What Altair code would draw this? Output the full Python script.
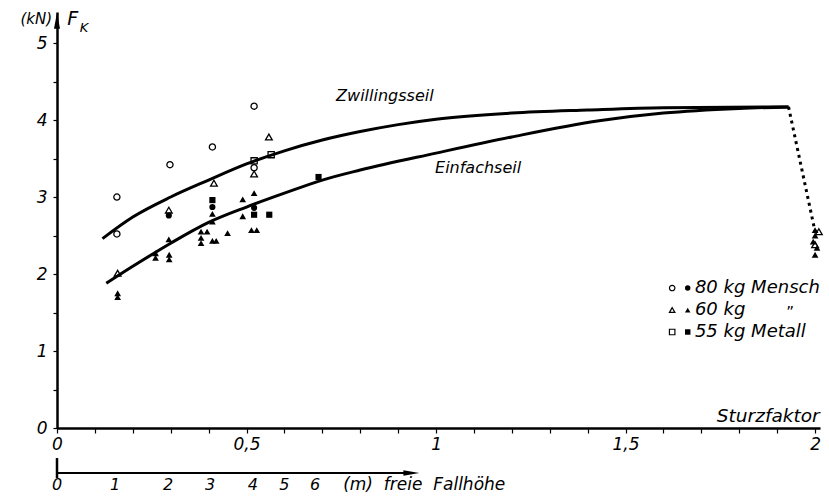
import altair as alt
import pandas as pd

FONT = "DejaVu Sans"

# ---------------- data ----------------
# 80 kg Mensch (circles)
circ_open_x = [0.158, 0.158, 0.298, 0.41, 0.52, 0.52]
circ_open_y = [3.00, 2.52, 3.42, 3.65, 4.18, 3.38]
circ_fill_x = [0.295, 0.41, 0.52]
circ_fill_y = [2.76, 2.87, 2.86]
# 60 kg Mensch (triangles)
tri_open_x = [0.16, 0.295, 0.414, 0.559, 0.52, 2.01, 2.00]
tri_open_y = [2.01, 2.83, 3.18, 3.78, 3.30, 2.55, 2.38]
tri_fill_x = [0.16, 0.16, 0.26, 0.26, 0.296, 0.296, 0.295, 0.38, 0.396, 0.38, 0.38,
              0.41, 0.42, 0.45, 0.41, 0.41, 0.49, 0.52, 0.49, 0.513, 0.527,
              2.00, 2.00, 1.995, 2.005, 2.00]
tri_fill_y = [1.75, 1.70, 2.27, 2.21, 2.25, 2.19, 2.45, 2.55, 2.55, 2.47, 2.40,
              2.43, 2.43, 2.53, 2.78, 2.68, 2.97, 3.05, 2.75, 2.57, 2.57,
              2.57, 2.50, 2.42, 2.34, 2.25]
# 55 kg Metall (squares)
sq_open_x = [0.565, 0.52]
sq_open_y = [3.55, 3.47]
sq_fill_x = [0.41, 0.52, 0.56, 0.69]
sq_fill_y = [2.96, 2.77, 2.77, 3.26]

# curves
zw_x = [0.12, 0.2, 0.3, 0.4, 0.5, 0.6, 0.7, 0.8, 0.9, 1.0, 1.2, 1.4, 1.6, 1.93]
zw_y = [2.46, 2.74, 3.00, 3.22, 3.43, 3.60, 3.74, 3.85, 3.94, 4.01, 4.09, 4.13, 4.16, 4.17]
ef_x = [0.13, 0.2, 0.3, 0.4, 0.5, 0.6, 0.7, 0.8, 1.0, 1.2, 1.43, 1.6, 1.8, 1.93]
ef_y = [1.88, 2.10, 2.40, 2.67, 2.87, 3.05, 3.22, 3.35, 3.57, 3.78, 3.99, 4.09, 4.15, 4.17]
drop_x = [1.93, 2.0]
drop_y = [4.17, 2.55]

# axis ticks
x_ticks = [0.0, 0.1, 0.2, 0.3, 0.4, 0.5, 0.6, 0.7, 0.8, 0.9, 1.0,
           1.1, 1.2, 1.3, 1.4, 1.5, 1.6, 1.7, 1.8, 1.9, 2.0]
y_ticks = [0, 0.5, 1, 1.5, 2, 2.5, 3, 3.5, 4, 4.5, 5]
# second scale: freie Fallhoehe (m), position in Sturzfaktor units
fall_labels = ["0", "1", "2", "3", "4", "5", "6"]
fall_pos = [0.0, 0.153, 0.293, 0.404, 0.517, 0.60, 0.681]

# legend
legend_labels = ["80 kg Mensch", "60 kg", "55 kg Metall"]
legend_shapes = ["circle", "triangle-up", "square"]

# ---------------- scales ----------------
xs = alt.Scale(domain=[0, 2.013], nice=False, zero=False)
ys = alt.Scale(domain=[0, 5.403], nice=False, zero=False)

x_axis = alt.Axis(values=x_ticks, title=None, grid=False,
                  labelExpr="round(datum.value*10) % 5 == 0 ? replace(format(datum.value, ''), '.', ',') : ''",
                  labelFlush=False, labelOverlap=False, labelBound=False,
                  tickSize=5, labelPadding=3, domainWidth=2.5, tickWidth=1.2,
                  labelFont=FONT, labelFontStyle="italic", labelFontSize=17,
                  labelColor="black", domainColor="black", tickColor="black")
y_axis = alt.Axis(values=y_ticks, title=None, grid=False,
                  labelExpr="round(datum.value*2) % 2 == 0 ? format(datum.value, 'd') : ''",
                  labelFlush=False, labelOverlap=False, labelBound=False,
                  tickSize=4, labelPadding=6, domainWidth=2.5, tickWidth=1.2,
                  labelFont=FONT, labelFontStyle="italic", labelFontSize=17,
                  labelColor="black", domainColor="black", tickColor="black")

X = alt.X("x:Q", scale=xs, axis=x_axis)
Y = alt.Y("y:Q", scale=ys, axis=y_axis)


def df(xv, yv, **extra):
    d = pd.DataFrame({"x": xv, "y": yv})
    for k, v in extra.items():
        d[k] = v
    return d


def text_layer(xv, yv, t, size=16, align="center", italic=True):
    return (alt.Chart(df(xv, yv, t=t))
            .mark_text(align=align, baseline="middle", font=FONT,
                       fontStyle="italic" if italic else "normal", fontSize=size, color="black")
            .encode(x=X, y=Y, text="t:N"))


layers = []

# curves
curves = pd.concat([df(zw_x, zw_y, s="Zwillingsseil"), df(ef_x, ef_y, s="Einfachseil")])
layers.append(alt.Chart(curves).mark_line(interpolate="monotone", strokeWidth=3, color="black")
              .encode(x=X, y=Y, detail="s:N"))
layers.append(alt.Chart(df(drop_x, drop_y)).mark_line(strokeWidth=3, color="black", strokeDash=[3, 4])
              .encode(x=X, y=Y))

# points
pt_sets = [
    (circ_open_x, circ_open_y, "circle", False, 38),
    (circ_fill_x, circ_fill_y, "circle", True, 38),
    (tri_open_x, tri_open_y, "triangle-up", False, 45),
    (tri_fill_x, tri_fill_y, "triangle-up", True, 45),
    (sq_open_x, sq_open_y, "square", False, 38),
    (sq_fill_x, sq_fill_y, "square", True, 38),
]
for xv, yv, shp, filled, size in pt_sets:
    layers.append(alt.Chart(df(xv, yv)).mark_point(shape=shp, filled=filled, size=size,
                                                    strokeWidth=1.3, color="black", opacity=1)
                  .encode(x=X, y=Y))

# legend
leg_y = [1.818, 1.532, 1.247]
leg_open = df([1.623] * 3, leg_y, shape=legend_shapes)
leg_fill = df([1.664] * 3, leg_y, shape=legend_shapes)
for d, filled in [(leg_open, False), (leg_fill, True)]:
    layers.append(alt.Chart(d).mark_point(filled=filled, size=30, strokeWidth=1.2, color="black", opacity=1)
                  .encode(x=X, y=Y, shape=alt.Shape("shape:N", scale=None)))
layers.append(text_layer([1.683] * 3, leg_y, legend_labels, size=18, align="left"))
layers.append(text_layer([1.934], [1.50], ["\u201d"], size=15, italic=False))

# curve labels and axis titles
layers.append(text_layer([0.865, 1.111], [4.31, 3.38], ["Zwillingsseil", "Einfachseil"], size=16))
layers.append(text_layer([2.012], [0.16], ["Sturzfaktor"], size=18.5, align="right"))
layers.append(text_layer([-0.013], [5.31], ["(kN)"], size=15, align="right"))
layers.append(text_layer([0.027], [5.31], ["F"], size=19, align="left"))
layers.append(text_layer([0.060], [5.19], ["K"], size=13, align="left"))

# y-axis arrow head
layers.append(alt.Chart(df([0.0], [5.29])).mark_point(shape="M0,-1L0.38,1L-0.38,1Z", filled=True, size=256,
                                                       color="black", opacity=1)
              .encode(x=X, y=Y))

# second axis: freie Fallhoehe
layers.append(alt.Chart(df([0.0], [-0.584], x2=[0.93])).mark_rule(strokeWidth=2, color="black")
              .encode(x=X, x2="x2:Q", y=Y))
layers.append(alt.Chart(df([0.0], [-0.39], y2=[-0.65])).mark_rule(strokeWidth=2.5, color="black")
              .encode(x=X, y=Y, y2="y2:Q"))
layers.append(alt.Chart(df([0.935], [-0.584])).mark_point(shape="M1,0L-1,-0.35L-1,0.35Z", filled=True, size=256,
                                                           color="black", opacity=1)
              .encode(x=X, y=Y))
layers.append(text_layer(fall_pos, [-0.74] * len(fall_pos), fall_labels, size=16))
layers.append(text_layer([0.755], [-0.74], ["(m)\u00a0\u00a0freie\u00a0\u00a0Fallhöhe"], size=17, align="left"))

chart = alt.layer(*layers).properties(
    width=763, height=416,
    padding={"left": 57, "top": 12, "right": 9, "bottom": 72},
    autosize=alt.AutoSizeParams(type="none"),
    background="white",
).configure_view(stroke=None)

chart.save("out.html", embed_options={"renderer": "svg", "actions": False})
